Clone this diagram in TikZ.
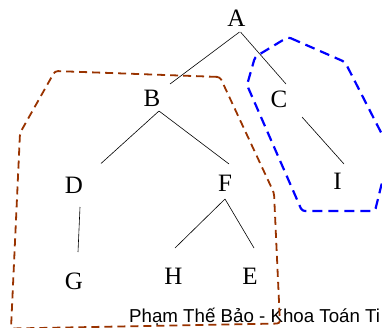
\documentclass[tikz,border=0pt]{standalone}
\usepackage{fontspec}
\setmainfont{Liberation Serif}
\newfontfamily\footfont{Liberation Sans}
\usetikzlibrary{calc}
\definecolor{rustbrown}{RGB}{153,51,0}

\begin{document}
\begin{tikzpicture}[x=1pt, y=-1pt,
        vertex/.style={inner sep=0pt, text depth=0pt, font=\fontsize{25}{30}\selectfont},
        link/.style={line width=0.6pt},
        subtree/.style={line width=1.8pt, dash pattern=on 8pt off 5pt, rounded corners=3pt}
    ]
        \useasboundingbox (0,0) rectangle (382,327);

        \node[vertex] (a) at (236.5,18.5) {A};
        \node[vertex] (b) at (152,98.5) {B};
        \node[vertex] (c) at (279,99) {C};
        \node[vertex] (d) at (74,185.5) {D};
        \node[vertex] (f) at (225,183.5) {F};
        \node[vertex] (i) at (337.5,181.5) {I};
        \node[vertex] (g) at (74,281) {G};
        \node[vertex] (h) at (173.5,276) {H};
        \node[vertex] (e) at (250,276) {E};

        \draw[link] ($(a)+(3,13.5)$) -- ($(b)+(18,-14.5)$);
        \draw[link] ($(a)+(4,13.5)$) -- ($(c)+(7,-15)$);
        \draw[link] ($(b)+(7,12.5)$) -- ($(d)+(27,-22)$);
        \draw[link] ($(b)+(7,12.5)$) -- ($(f)+(4,-19.5)$);
        \draw[link] ($(d)+(6,21.5)$) -- ($(g)+(4,-29)$);
        \draw[link] ($(f)+(0,15.5)$) -- ($(h)+(1.5,-28)$);
        \draw[link] ($(f)+(0,15.5)$) -- ($(e)+(4,-28)$);
        \draw[link] ($(c)+(23,18)$) -- ($(i)+(6.5,-17.5)$);

        % footer
        \node[anchor=base west, inner sep=0pt, font=\footfont\fontsize{18.7}{22}\selectfont] (credit) at (129,322) {Phạm Thế Bảo - Khoa Toán Ti};

        % subtrees
        \draw[subtree, rustbrown] (220,77) -- (55,71) -- (20,133) -- (11,328.5) -- (280,323.5) -- (274,193) -- cycle;
        \draw[subtree, blue, line width=2.2pt, dash pattern=on 10pt off 6pt] (288,37) -- (345,62) -- (390,150) -- (375,211) -- (302,211) -- (247,85) -- (255,57) -- cycle;
    \end{tikzpicture}
\end{document}
